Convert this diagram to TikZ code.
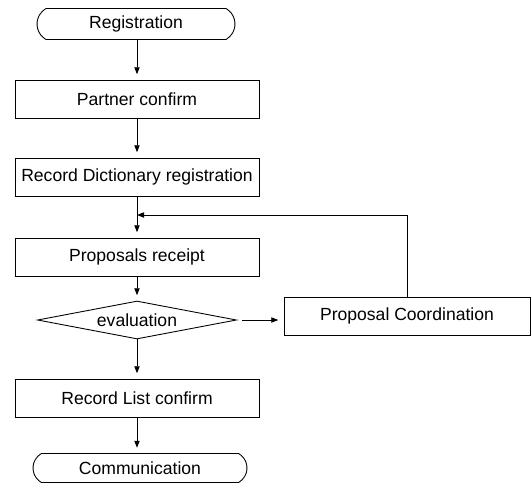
\documentclass[tikz,border=0pt]{standalone}
\usepackage{fontspec}
\setmainfont{Liberation Sans}
\usetikzlibrary{shapes.geometric,shapes.misc,arrows.meta}

\begin{document}
\begin{tikzpicture}[x=0.02cm,y=-0.02cm,line width=0.5pt,
  terminal/.style={draw,rounded rectangle,rounded rectangle arc length=120,inner sep=0pt,minimum height=0.62cm},
  process/.style={draw,rectangle,inner sep=0pt,minimum width=4.88cm,minimum height=0.76cm},
  decision/.style={draw,diamond,shape aspect=5.2,inner sep=0pt,minimum width=3.98cm,minimum height=0.76cm},
  flow/.style={-{Triangle[length=4pt,width=3pt]},shorten >=3pt}]
\useasboundingbox (0,0) rectangle (532,484);
% terminals, boxes and the test
\node [terminal,minimum width=3.96cm] (reg) at (136,24) {Registration};
\node [process] (partner) at (137,99) {Partner confirm};
\node [process] (dict) at (137,177) {Record Dictionary registration};
\node [process] (receipt) at (137,257) {Proposals receipt};
\node [decision] (eval) at (137,320) {evaluation};
\node [process,minimum width=4.92cm] (coord) at (407,316) {Proposal Coordination};
\node [process] (list) at (137,398) {Record List confirm};
\node [terminal,minimum width=4.28cm,minimum height=0.58cm] (comm) at (140,468) {Communication};
\coordinate (join) at (137,215);
% connectors
\draw [flow] (reg.south -| partner.north) -- (partner);
\draw [flow] (partner) -- (dict);
\draw [flow] (dict) -- (receipt);
\draw [flow] (receipt) -- (eval);
\draw [flow,shorten <=3pt] (eval.east) -- (eval.east -| coord.west);
\draw [flow,shorten >=0pt] (coord.north) |- (join);
\draw [flow] (eval) -- (list);
\draw [flow] (list) -- (list.south |- comm.north);
\end{tikzpicture}
\end{document}
